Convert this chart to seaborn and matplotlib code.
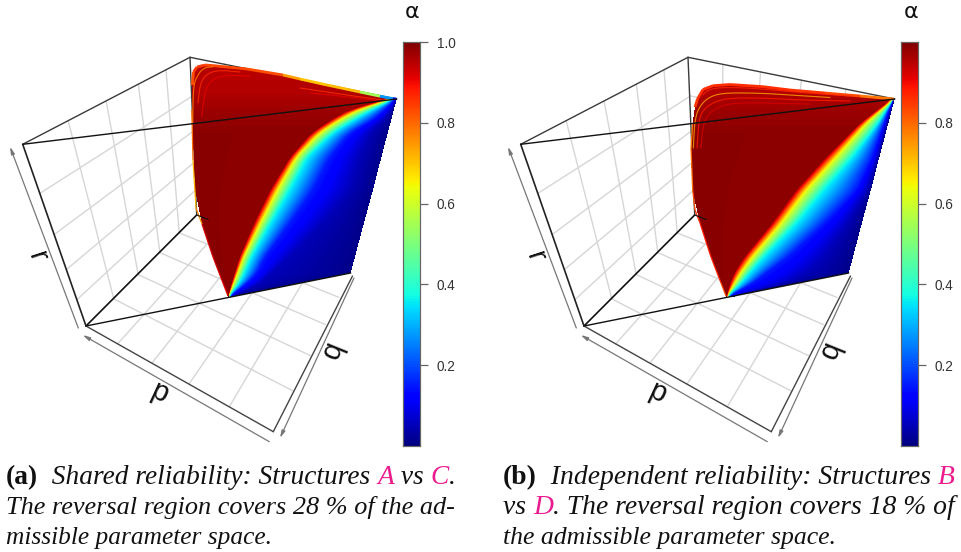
import numpy as np
import matplotlib
matplotlib.use("Agg")
import matplotlib.pyplot as plt
from matplotlib.collections import LineCollection
import seaborn as sns

W, H = 962, 552
sns.set_theme(style="white")
plt.rcParams['font.family'] = ['Liberation Sans', 'DejaVu Sans']

# ---- box corners of panel (a), read in picture pixels ----
corner_TL = (22.7, 144.3)
corner_TB = (190.0, 57.3)
corner_TR = (396.7, 99.0)
corner_BL = (86.0, 326.0)
corner_BB = (196.7, 215.0)
corner_F = (273.3, 431.7)
corner_C = (350.7, 273.0)
panel_shift = [0.0, 498.0]
grid_fracs = [0.2, 0.4, 0.6, 0.8]

# alpha value attached to each curve of the surface, left to right
level_values = [0.99, 0.985, 0.62, 0.37, 0.15, 0.05, 0.01]
# upper limit of alpha by picture row: the top of the surface is a paler red
cap_y = [60, 92, 112, 135]
cap_val = [0.95, 0.955, 0.975, 0.99]

# ---- panel (a) surface ----
a_top_y = [65, 67, 69, 72, 75, 80, 85, 91, 97]
a_top_left = [204, 197, 195.5, 194, 193.5, 192.5, 192, 191.8, 191.7]
a_top_right = [212, 232, 247, 266, 283, 307, 327, 353, 380]
a_y = [99, 107, 117, 133, 157, 190, 223, 257, 273, 283, 297]
a_left = [191.7, 192, 192.3, 193, 193.7, 195, 201.7, 213, 219, 223, 228]
a_red = [391, 355, 335, 311, 290, 270, 254, 239.5, 234.5, 231.5, 228.1]
a_yellow = [394, 366, 345, 320, 297, 278, 261, 244, 238, 234, 228.2]
a_cyan = [395, 377, 358, 332, 307, 289, 270, 251, 244, 239, 228.3]
a_blue = [396, 387, 377, 350, 330, 313, 290, 265, 257, 247, 228.6]
a_navy = [396.4, 393, 387, 370, 360, 350, 323, 290, 272, 262, 229]
a_right = [396.7, 394.6, 392, 387.7, 381.4, 373, 363.9, 354.9, 350.7, 299.6, 229.2]

# ---- panel (b) surface ----
b_top_y = [84, 86, 88, 90, 93, 96]
b_top_left = [725, 711, 706, 703.6, 701, 699]
b_top_right = [735, 763, 778, 790, 825, 860]
b_y = [99, 107, 123, 157, 190, 223, 257, 273, 283, 297]
b_left = [697.5, 695, 692.7, 691, 692.5, 699.7, 711, 717, 721, 726.3]
b_red = [892, 881, 860, 826, 796, 772, 744, 734, 730, 726.4]
b_yellow = [893.5, 885, 867, 837, 807, 782, 753, 741, 735, 726.5]
b_cyan = [894, 888, 878, 852, 823, 796, 763, 749, 741, 726.6]
b_blue = [894.3, 890, 884, 872, 856, 825, 788, 766, 753, 726.8]
b_navy = [894.5, 891.5, 886.5, 878, 868, 848, 825, 808, 788, 727]
b_right = [894.7, 892.6, 888.4, 879.4, 870.9, 861.9, 853, 848.7, 797.6, 727.2]

# ---- rim colours: x, y, alpha ----
a_rim_x = [191.8, 193, 196, 202, 213, 223, 228]
a_rim_y = [110, 160, 208, 224, 257, 283, 296]
a_rim_val = [0.76, 0.84, 0.6, 0.92, 0.93, 0.92, 0.9]
a_edge_x = [192.3, 193.5, 197, 205, 212, 247, 283, 300, 327, 360, 380, 393, 396.5]
a_edge_y = [85, 72, 67, 65, 65.5, 69, 75, 79, 85, 92, 96.2, 98.7, 99]
a_edge_val = [0.8, 0.85, 0.85, 0.85, 0.82, 0.85, 0.8, 0.68, 0.72, 0.7, 0.4, 0.15, 0.06]
a_rings = [
    ([192.7, 193.3, 196.7, 203, 213], [123, 86.7, 76.7, 68, 66.7], 0.76),
    ([198, 200, 205, 217, 240], [103, 85, 75, 70, 72], 0.86),
    ([201.7, 205, 211.7, 223, 250], [116.7, 90, 80, 75, 76], 0.91),
    ([300, 340, 382], [88, 94, 100], 0.86),
    ([310, 350, 380], [93, 97, 101], 0.91),
]
b_rim_x = [726, 721, 711, 700, 695, 692.7, 691, 692.7]
b_rim_y = [296, 283, 257, 223, 210, 190, 148, 123]
b_rim_val = [0.8, 0.86, 0.88, 0.88, 0.84, 0.82, 0.76, 0.8]
b_edge_x = [695, 697.5, 703, 713, 730, 763, 790, 825, 860, 894]
b_edge_y = [107, 99, 89.5, 85.7, 84.5, 86.7, 90, 93, 96, 99]
b_edge_val = [0.84, 0.86, 0.86, 0.86, 0.86, 0.86, 0.86, 0.85, 0.82, 0.75]
b_rings = [
    ([703, 707, 716, 732, 763, 800, 850], [95, 90.5, 88, 87.3, 89, 92.5, 96], 0.87),
    ([693.3, 695, 701.7, 713, 730, 763, 790, 830], [148, 116.7, 103, 95, 92.7, 93.3, 95, 97.5], 0.73),
    ([697, 699, 705, 716, 732, 763, 800, 850], [148, 118, 108, 101, 98, 98, 100, 101], 0.88),
    ([701, 703, 708, 720, 735, 765, 810], [148, 125, 114, 106, 103, 103, 104], 0.92),
]

# ---- colour bars ----
bar_values = [1.0, 0.8, 0.6, 0.4, 0.2, 0.0]
a_ticks = [0.2, 0.4, 0.6, 0.8, 1.0]
b_ticks = [0.2, 0.4, 0.6, 0.8]
bar_left_px = [403.0, 901.0]
bar_width_px = 17.0
bar_top_px = 42.0
bar_bottom_px = 446.0

# ---- captions: (text, colour key, font key) per run ----
PINK = "#EC1C8E"
INK = "#111111"
a_lines = [
    [("(a)", INK, "b"), ("  Shared reliability: Structures ", INK, "i"), ("A", PINK, "i"), (" vs ", INK, "i"), ("C", PINK, "i"), (".", INK, "i")],
    [("The reversal region covers 28 % of the ad-", INK, "i")],
    [("missible parameter space.", INK, "i")],
]
b_lines = [
    [("(b)", INK, "b"), ("  Independent reliability: Structures ", INK, "i"), ("B", PINK, "i")],
    [("vs ", INK, "i"), ("D", PINK, "i"), (". The reversal region covers 18 % of", INK, "i")],
    [("the admissible parameter space.", INK, "i")],
]
line_baselines = [484, 514, 544]
a_caption_x = [(6, 456), (6, 456), (6, 272)]
b_caption_x = [(503, 955), (503, 955), (503, 838)]

axis_labels = ["r", "p", "q"]
label_pos = [(37, 257), (159, 393), (333, 350)]
label_rot = [-72, -25, 68]

fig = plt.figure(figsize=(W / 100, H / 100), dpi=100)
ax = fig.add_axes([0, 0, 1, 1])
ax.set_xlim(0, W)
ax.set_ylim(H, 0)
ax.axis("off")
jet = plt.get_cmap("jet")


def homography(quad):
    src = [(0, 0), (1, 0), (1, 1), (0, 1)]
    A, b = [], []
    for (u, v), (x, y) in zip(src, quad):
        A.append([u, v, 1, 0, 0, 0, -u * x, -v * x]); b.append(x)
        A.append([0, 0, 0, u, v, 1, -u * y, -v * y]); b.append(y)
    h = np.linalg.solve(np.array(A, float), np.array(b, float))
    return np.append(h, 1).reshape(3, 3)


def warp(M, u, v):
    w = M @ np.array([u, v, 1.0])
    return w[:2] / w[2]


def draw_wall(quad, dx):
    M = homography(quad)
    for t in grid_fracs:
        for p0, p1 in (((t, 0), (t, 1)), ((0, t), (1, t))):
            a, b = warp(M, *p0), warp(M, *p1)
            ax.plot([a[0] + dx, b[0] + dx], [a[1], b[1]], color="#d6d6d6", lw=1.0, zorder=1)


def seg(p, q, dx, color="#3a3a3a", lw=1.0, z=2):
    ax.plot([p[0] + dx, q[0] + dx], [p[1], q[1]], color=color, lw=lw, zorder=z, solid_capstyle="round")


def arrow(tail, head, dx):
    ax.annotate("", xy=(head[0] + dx, head[1]), xytext=(tail[0] + dx, tail[1]),
                arrowprops=dict(arrowstyle="-|>,head_width=0.09,head_length=0.35", color="#777777",
                                lw=0.9, shrinkA=0, shrinkB=0), zorder=2)


def chaikin(x, y, n=3):
    pts = np.c_[x, y].astype(float)
    for _ in range(n):
        q = 0.75 * pts[:-1] + 0.25 * pts[1:]
        r = 0.25 * pts[:-1] + 0.75 * pts[1:]
        new = np.empty((2 * len(q), 2))
        new[0::2], new[1::2] = q, r
        pts = np.vstack([pts[:1], new, pts[-1:]])
    return pts[:, 0], pts[:, 1]


def draw_surface(top_y, top_l, top_r, y, cols):
    # cols: left, red, yellow, cyan, blue, navy, right
    ys = np.r_[top_y, y].astype(float)
    table = [np.r_[top_l, cols[0]]]
    for c in cols[1:]:
        table.append(np.r_[top_r, c])
    table = np.array(table, float)
    gx = np.arange(np.floor(table.min()), np.ceil(table.max()) + 0.5, 0.5)
    gy = np.arange(ys[0], ys[-1] + 0.25, 0.5)
    dense = np.array([np.interp(gy, ys, t) for t in table])
    # round the kinks of the hand-read interior curves
    win = 25
    kernel = np.ones(win) / win
    n_top = np.searchsorted(gy, y[0])
    for k in range(1, len(dense) - 1):
        pad = np.pad(dense[k, n_top:], win // 2, mode="edge")
        dense[k, n_top:] = np.convolve(pad, kernel, mode="valid")
    for k in range(1, len(dense)):
        dense[k] = np.maximum(dense[k], dense[k - 1] + 0.001)
    for k in range(len(dense) - 2, 0, -1):
        dense[k] = np.minimum(dense[k], dense[k + 1] - 0.001)
    Z = np.full((len(gy), len(gx)), np.nan)
    for r in range(len(gy)):
        xs = dense[:, r]
        vals = np.interp(gx, xs, level_values)
        vals[(gx < xs[0]) | (gx > xs[-1])] = np.nan
        Z[r] = np.minimum(vals, np.interp(gy[r], cap_y, cap_val))
    ax.pcolormesh(gx, gy, np.ma.masked_invalid(Z), cmap=jet, vmin=0, vmax=1, shading="nearest", zorder=3)


def draw_rim(x, y, v, lw):
    x, y, v = map(np.asarray, (x, y, v))
    segs = np.stack([np.c_[x[:-1], y[:-1]], np.c_[x[1:], y[1:]]], axis=1)
    ax.add_collection(LineCollection(segs, colors=jet((v[:-1] + v[1:]) / 2), linewidths=lw, zorder=4))


def draw_caption(lines, spans):
    rend = fig.canvas.get_renderer()
    fonts = {"i": dict(family=["Liberation Serif"], style="italic"),
             "b": dict(family=["Liberation Serif"], weight="bold")}
    base = 13.6
    for runs, (x0, x1), yb in zip(lines, spans, line_baselines):
        def build(size):
            x = x0
            items = []
            for s, c, f in runs:
                t = ax.text(x, yb, s, color=c, fontsize=size, va="baseline", ha="left", zorder=6, **fonts[f])
                items.append(t)
                probe = ax.text(0, 0, s.replace(" ", "n"), fontsize=size, **fonts[f])
                blank = ax.text(0, 0, "n", fontsize=size, **fonts[f])
                sp = ax.text(0, 0, "n n", fontsize=size, **fonts[f])
                nw = blank.get_window_extent(rend).width
                sw = sp.get_window_extent(rend).width - 2 * nw
                adv = probe.get_window_extent(rend).width - s.count(" ") * (nw - sw)
                for q in (probe, blank, sp):
                    q.remove()
                x += adv
            return items, x
        items, xe = build(base)
        for t in items:
            t.remove()
        size = base * (x1 - x0) / (xe - x0)
        build(size)


panels = [
    (a_top_y, a_top_left, a_top_right, a_y, [a_left, a_red, a_yellow, a_cyan, a_blue, a_navy, a_right],
     (a_rim_x, a_rim_y, a_rim_val), (a_edge_x, a_edge_y, a_edge_val), a_rings, a_ticks),
    (b_top_y, b_top_left, b_top_right, b_y, [b_left, b_red, b_yellow, b_cyan, b_blue, b_navy, b_right],
     (b_rim_x, b_rim_y, b_rim_val), (b_edge_x, b_edge_y, b_edge_val), b_rings, b_ticks),
]
alpha_x = [412.5, 911.0]

for i, (ty, tl, tr, yy, cols, rim, edge, rings, ticks) in enumerate(panels):
    dx = panel_shift[i]
    draw_wall([corner_BL, corner_F, corner_C, corner_BB], dx)
    draw_wall([corner_BL, corner_BB, corner_TB, corner_TL], dx)
    draw_wall([corner_BB, corner_C, corner_TR, corner_TB], dx)
    # box behind surface
    seg(corner_TL, corner_TB, dx)
    seg(corner_TB, corner_TR, dx)
    seg(corner_TB, corner_BB, dx)
    seg(corner_TL, corner_BL, dx, color="#222222", lw=1.2)
    seg(corner_BL, corner_BB, dx, color="#111111", lw=1.2)
    seg(corner_BL, corner_F, dx, color="#444444")
    seg(corner_F, (352.5, 276), dx, color="#444444")
    # axis arrows
    arrow((78.3, 328), (10, 146.7), dx)
    arrow((269.3, 441.7), (82.7, 335), dx)
    arrow((354, 278), (280, 438), dx)

    draw_surface(ty, tl, tr, yy, cols)
    draw_rim(*rim, 0.9)
    draw_rim(*edge, 2.0)
    for rx, ry, rv in rings:
        sx, sy = chaikin(rx, ry)
        ax.plot(sx, sy, color=jet(rv), lw=0.8, alpha=0.8, zorder=4)

    # lines over the surface
    seg(corner_TL, corner_TR, dx, color="#111111", lw=1.0, z=5)
    seg(corner_BL, corner_C, dx, color="#111111", lw=1.0, z=5)
    seg(corner_BB, (208.3, 219.5), dx, color="#111111", lw=0.8, z=5)

    for s, (lx, ly), rot in zip(axis_labels, label_pos, label_rot):
        ax.text(lx + dx, ly, s, fontsize=21, rotation=rot, ha="center", va="center", color="#111111", zorder=6)

    # colour bar
    left = bar_left_px[i] / W
    bottom = 1 - bar_bottom_px / H
    height = (bar_bottom_px - bar_top_px) / H
    cax = fig.add_axes([left, bottom, bar_width_px / W, height])
    gradient = np.interp(np.linspace(0, 1, 256), [0, 1], [bar_values[0], bar_values[-1]]).reshape(-1, 1)
    sns.heatmap(gradient, cmap="jet", vmin=0, vmax=1, cbar=False, ax=cax, xticklabels=False, yticklabels=False)
    tax = cax.twinx()
    tax.set_ylim(0, 1)
    tax.set_yticks(ticks)
    tax.set_yticklabels([f"{t:.1f}" for t in ticks], fontsize=9.8, color="#333333")
    tax.tick_params(axis="y", length=6, width=0.9, color="#666666", pad=6, right=True)
    for sp in list(cax.spines.values()) + list(tax.spines.values()):
        sp.set_visible(True)
        sp.set_linewidth(0.8)
        sp.set_color("#666666")
    ax.text(alpha_x[i], 17.5, "\u03b1", fontsize=16, family=["DejaVu Sans"], ha="center", va="baseline",
            color="#111111", zorder=6)

fig.canvas.draw()
draw_caption(a_lines, a_caption_x)
draw_caption(b_lines, b_caption_x)

fig.savefig("out.png", dpi=100)
